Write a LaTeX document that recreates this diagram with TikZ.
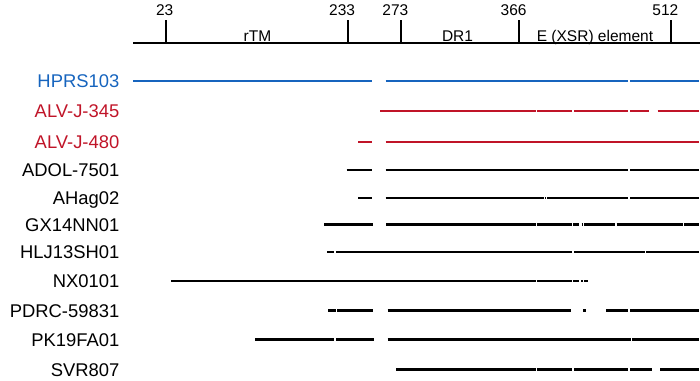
\documentclass[tikz,border=0pt]{standalone}
\usepackage{fontspec}
\setmainfont{Liberation Sans}
\definecolor{myblue}{RGB}{22,100,190}
\definecolor{myred}{RGB}{192,20,40}
\begin{document}
\begin{tikzpicture}[x=1pt,y=-1pt,
  segline/.style={line width=2.4pt},
  axisline/.style={line width=2.2pt},
  ticklabel/.style={anchor=base east,inner sep=0pt,font=\fontsize{15.5}{18}\selectfont},
  regionlabel/.style={anchor=base,inner sep=0pt,font=\fontsize{15.5}{18}\selectfont},
  rowlabel/.style={anchor=base east,inner sep=0pt,font=\fontsize{18.4}{20}\selectfont}]
\useasboundingbox (0,0) rectangle (700,380);
% axis
\coordinate (axl) at (133,43.3);
\coordinate (axr) at (700,43.3);
\draw[axisline] (axl) -- (axr);
\foreach \x/\lab [count=\i] in {166/23,347.7/233,401/273,519.3/366,671/512}{
  \coordinate (tt\i) at (\x,20);
  \coordinate (tb\i) at (\x,44.3);
  \draw[axisline] (tt\i) -- (tb\i);
  \node[ticklabel] (tl\i) at (\x+7.5,15) {\lab};
}
\node[regionlabel] (rtm) at (257.5,41) {rTM};
\node[regionlabel] (dr1) at (457.5,41) {DR1};
\node[regionlabel] (xsr) at (595,41) {E (XSR) element};
% rows
\foreach \y/\c/\lab/\segs [count=\r] in {
  80.7/myblue/HPRS103/{133/371.7,385.7/628.3,630/699.3},
  111/myred/ALV-J-345/{380/535.7,536.7/572.3,574/628.3,630/649.3,657.7/699},
  141.7/myred/ALV-J-480/{358.3/371.7,385.7/699},
  170/black/ADOL-7501/{346.7/371.7,385.7/628.3,630/699},
  197.7/black/AHag02/{358.3/371.7,385.7/541.7,542.3/543.5,544.8/546,547.3/628.3,630/699},
  224.3/black/GX14NN01/{324/373.3,386.3/535.7,536.7/572.3,573.3/579.3,581.7/583.3,584.3/615,616.7/682.7,684/699},
  252/black/HLJ13SH01/{327.3/334.3,336/572.3,574/645,646/699},
  281/black/NX0101/{171/535.7,536.7/572.3,573.3/579.3,581.3/582.7,584/588.3},
  310.3/black/PDRC-59831/{328.3/335.7,337.3/373.3,387.7/571,583.3/586,606/628.3,630/699},
  339.3/black/PK19FA01/{255/334.3,336/374.3,387.7/631,632/699},
  369.3/black/SVR807/{396/535.7,536.7/572.3,574/628.3,630/652,660/699}}{
  \node[rowlabel,text=\c] (row\r) at (119.5,\y+6.8) {\lab};
  \foreach \a/\b [count=\s] in \segs {
    \coordinate (s\r a\s) at (\a,\y);
    \coordinate (s\r b\s) at (\b,\y);
    \draw[segline,draw=\c] (s\r a\s) -- (s\r b\s);
  }
}
\end{tikzpicture}
\end{document}
